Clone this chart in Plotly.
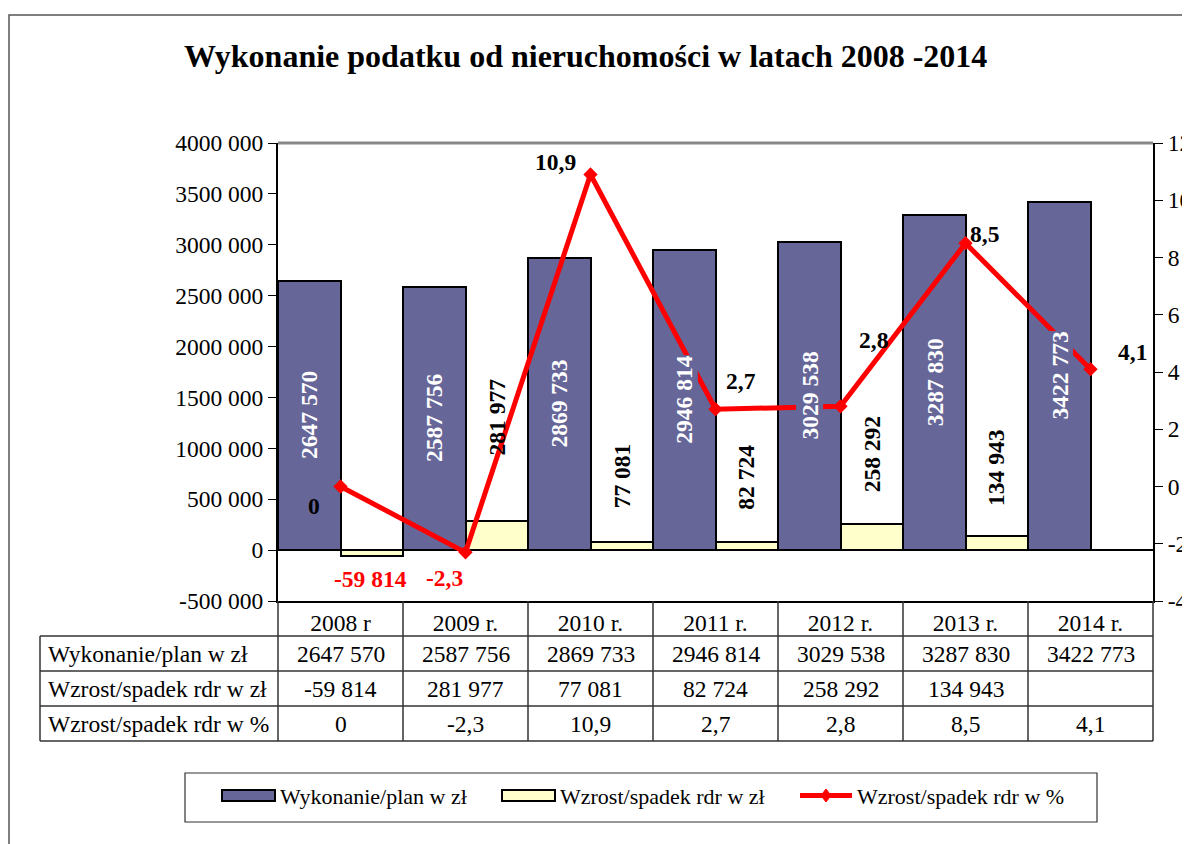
import plotly.graph_objects as go

# ---------------- data ----------------
categories = ["2008 r", "2009 r.", "2010 r.", "2011 r.", "2012 r.", "2013 r.", "2014 r."]
wykonanie = [2647570, 2587756, 2869733, 2946814, 3029538, 3287830, 3422773]
wzrost_zl = [-59814, 281977, 77081, 82724, 258292, 134943, None]
wzrost_pct = [0, -2.3, 10.9, 2.7, 2.8, 8.5, 4.1]
left_ticks = [-500000, 0, 500000, 1000000, 1500000, 2000000, 2500000, 3000000, 3500000, 4000000]
right_ticks = [-4, -2, 0, 2, 4, 6, 8, 10, 12]
row_labels = ["Wykonanie/plan w zł", "Wzrost/spadek rdr w zł", "Wzrost/spadek rdr w %"]
title = "Wykonanie podatku od nieruchomości w latach 2008 -2014"

PURPLE = "#666699"
YELLOW = "#FFFFCC"
RED = "#FF0000"
FONT = "Liberation Serif, Times New Roman, serif"

OFF = 8  # page body margin
W, H = 1190 - OFF, 844 - OFF
# plot area in screenshot pixels
L, R, T, B = 278, 1153, 143, 601


def fmt_num(v):
    if v is None:
        return ""
    s = str(abs(int(v)))
    if len(s) > 3:
        s = s[:-3] + " " + s[-3:]
    return ("-" if v < 0 else "") + s


def fmt_pct(v):
    return ("%g" % v).replace(".", ",")


def px(x):
    return (x - L) / (R - L)


def py(y):
    return (B - y) / (B - T)


fig = go.Figure()
fig.add_trace(go.Bar(x=categories, y=wykonanie, name="Wykonanie/plan w zł",
                     marker=dict(color=PURPLE, line=dict(color="black", width=2)),
                     showlegend=False))
fig.add_trace(go.Bar(x=categories, y=wzrost_zl, name="Wzrost/spadek rdr w zł",
                     marker=dict(color=YELLOW, line=dict(color="black", width=2)),
                     showlegend=False))
fig.add_trace(go.Scatter(x=categories, y=wzrost_pct, yaxis="y2", mode="lines+markers",
                         name="Wzrost/spadek rdr w %",
                         line=dict(color=RED, width=5),
                         marker=dict(symbol="diamond", size=11, color=RED),
                         showlegend=False))

ann = []
# purple bar labels (white, rotated, with bar-coloured background)
for c, v in zip(categories, wykonanie):
    ann.append(dict(x=c, y=v / 2, xref="x", yref="y", text=fmt_num(v), showarrow=False,
                    textangle=-90, xshift=-31, bgcolor=PURPLE, borderpad=0,
                    xanchor="center", yanchor="middle",
                    font=dict(family=FONT, size=23.5, color="white", weight="bold")))
# yellow bar labels
yel_shift = [None, 64, 32, 30, 29, 28, None]
for c, v, s in zip(categories, wzrost_zl, yel_shift):
    if v is None:
        continue
    if v < 0:
        ann.append(dict(x=c, y=v, xref="x", yref="y", text=fmt_num(v), showarrow=False,
                        xshift=30, yshift=-23, xanchor="center", yanchor="middle",
                        font=dict(family=FONT, size=23.5, color=RED, weight="bold")))
    else:
        ann.append(dict(x=c, y=v, xref="x", yref="y", text=fmt_num(v), showarrow=False,
                        textangle=-90, xshift=31, yshift=s, yanchor="bottom", xanchor="center",
                        font=dict(family=FONT, size=23.5, color="black", weight="bold")))
# line labels
line_lab = [(-27, -19, "black"), (-21, -26, RED), (-35, 12, "black"), (25, 28, "black"),
            (33, 66, "black"), (19, 9, "black"), (42, 17, "black")]
for c, v, (dx, dy, col) in zip(categories, wzrost_pct, line_lab):
    ann.append(dict(x=c, y=v, xref="x", yref="y2", text=fmt_pct(v), showarrow=False,
                    xshift=dx, yshift=dy, xanchor="center", yanchor="middle",
                    font=dict(family=FONT, size=23.5, color=col, weight="bold")))

# table
row_mid = [654, 689, 724]
rows = [[fmt_num(v) for v in wykonanie], [fmt_num(v) for v in wzrost_zl], [fmt_pct(v) for v in wzrost_pct]]
for lab, ym, vals in zip(row_labels, row_mid, rows):
    ann.append(dict(x=px(46), y=py(ym), xref="paper", yref="paper", text=lab, showarrow=False,
                    xanchor="left", yanchor="middle", font=dict(family=FONT, size=23.5, color="black")))
    for c, t in zip(categories, vals):
        ann.append(dict(x=c, y=py(ym), xref="x", yref="paper", text=t, showarrow=False,
                        xanchor="center", yanchor="middle",
                        font=dict(family=FONT, size=23.5, color="black")))

shapes = []
line_col = "#333333"
for yl in [636, 671, 706, 741]:
    shapes.append(dict(type="line", xref="paper", yref="paper", x0=px(40), x1=px(1153),
                       y0=py(yl), y1=py(yl), line=dict(color=line_col, width=1.5)))
shapes.append(dict(type="line", xref="paper", yref="paper", x0=px(40), x1=px(40),
                   y0=py(636), y1=py(741), line=dict(color=line_col, width=1.5)))
for k in range(len(categories) + 1):
    xx = L + (R - L) * k / len(categories)
    shapes.append(dict(type="line", xref="paper", yref="paper", x0=px(xx), x1=px(xx),
                       y0=py(601), y1=py(741), line=dict(color=line_col, width=1.5)))
# top border of plot area
shapes.append(dict(type="line", xref="paper", yref="paper", x0=0, x1=1, y0=1, y1=1,
                   line=dict(color="#888888", width=3)))
# outer chart frame
shapes.append(dict(type="rect", xref="paper", yref="paper", x0=px(9), x1=px(1230),
                   y0=py(900), y1=py(15), line=dict(color="#555555", width=1.5)))

# legend (manual)
shapes.append(dict(type="rect", xref="paper", yref="paper", x0=px(185), x1=px(1097),
                   y0=py(822), y1=py(773), line=dict(color="#333333", width=1.2)))
shapes.append(dict(type="rect", xref="paper", yref="paper", x0=px(222), x1=px(275),
                   y0=py(801), y1=py(790), fillcolor=PURPLE, line=dict(color="black", width=2)))
shapes.append(dict(type="rect", xref="paper", yref="paper", x0=px(502), x1=px(555),
                   y0=py(801), y1=py(790), fillcolor=YELLOW, line=dict(color="black", width=2)))
shapes.append(dict(type="line", xref="paper", yref="paper", x0=px(800), x1=px(852),
                   y0=py(795.5), y1=py(795.5), line=dict(color=RED, width=5)))
shapes.append(dict(type="path", xref="paper", yref="paper",
                   path="M %f,%f L %f,%f L %f,%f L %f,%f Z" % (px(826), py(789), px(831), py(795.5),
                                                             px(826), py(802), px(821), py(795.5)),
                   fillcolor=RED, line=dict(color=RED, width=1)))
for xx, t in [(278, "Wykonanie/plan w zł"), (558, "Wzrost/spadek rdr w zł"), (855, "Wzrost/spadek rdr w %")]:
    ann.append(dict(x=px(xx), y=py(796), xref="paper", yref="paper", text=t, showarrow=False,
                    xanchor="left", yanchor="middle", font=dict(family=FONT, size=22, color="black")))

# title
ann.append(dict(x=px(585), y=py(56), xref="paper", yref="paper", text=title, showarrow=False,
                xanchor="center", yanchor="middle",
                font=dict(family=FONT, size=32, color="black", weight="bold")))

fig.update_layout(
    width=W, height=H,
    margin=dict(l=L - OFF, r=W - (R - OFF), t=T - OFF, b=H - (B - OFF), pad=0, autoexpand=False),
    paper_bgcolor="white", plot_bgcolor="white",
    barmode="group", bargap=0, bargroupgap=0,
    font=dict(family=FONT, size=23.5, color="black"),
    annotations=ann, shapes=shapes,
    xaxis=dict(type="category", showgrid=False, showline=True, linecolor="black", linewidth=2,
               ticks="", tickfont=dict(family=FONT, size=23.5, color="black"), zeroline=False,
               fixedrange=True),
    yaxis=dict(range=[-500000, 4000000], tickvals=left_ticks, ticktext=[fmt_num(v) for v in left_ticks],
               showgrid=False, showline=True, linecolor="black", linewidth=2, ticks="outside",
               ticklen=8, tickcolor="black", zeroline=True, zerolinecolor="black", zerolinewidth=2,
               tickfont=dict(family=FONT, size=23.5, color="black"), automargin=False),
    yaxis2=dict(range=[-4, 12], tickvals=right_ticks, ticktext=[str(v) for v in right_ticks],
                overlaying="y", side="right", showgrid=False, showline=True, linecolor="black",
                linewidth=2, ticks="outside", ticklen=8, tickcolor="black", zeroline=False,
                tickfont=dict(family=FONT, size=23.5, color="black"), automargin=False),
)

fig.write_html("out.html")
